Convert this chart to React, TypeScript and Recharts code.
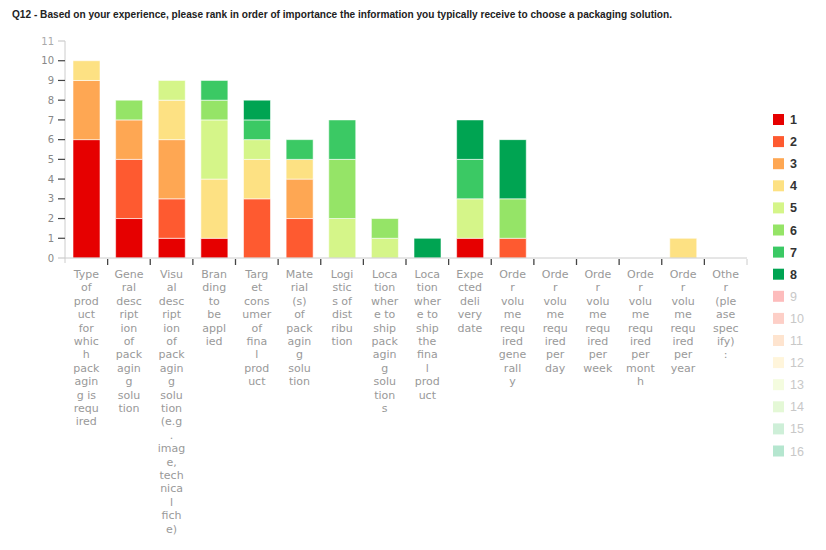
import { BarChart, Bar, XAxis, YAxis } from "recharts"

const title =
  "Q12 - Based on your experience, please rank in order of importance the information you typically receive to choose a packaging solution."

const categories = [
  "Type of product for which packaging is required",
  "General description of packaging solution",
  "Visual description of packaging solution (e.g. image, technical fiche)",
  "Branding to be applied",
  "Target consumer of final product",
  "Material(s) of packaging solution",
  "Logistics of distribution",
  "Location where to ship packaging solutions",
  "Location where to ship the final product",
  "Expected delivery date",
  "Order volume required generally",
  "Order volume required per day",
  "Order volume required per week",
  "Order volume required per month",
  "Order volume required per year",
  "Other (please specify):",
]

// number of respondents giving each rank, per category
const rank1 = [6, 2, 1, 1, 0, 0, 0, 0, 0, 1, 0, 0, 0, 0, 0, 0]
const rank2 = [0, 3, 2, 0, 3, 2, 0, 0, 0, 0, 1, 0, 0, 0, 0, 0]
const rank3 = [3, 2, 3, 0, 0, 2, 0, 0, 0, 0, 0, 0, 0, 0, 0, 0]
const rank4 = [1, 0, 2, 3, 2, 1, 0, 0, 0, 0, 0, 0, 0, 0, 1, 0]
const rank5 = [0, 0, 1, 3, 1, 0, 2, 1, 0, 2, 0, 0, 0, 0, 0, 0]
const rank6 = [0, 1, 0, 1, 0, 0, 3, 1, 0, 0, 2, 0, 0, 0, 0, 0]
const rank7 = [0, 0, 0, 1, 1, 1, 2, 0, 0, 2, 0, 0, 0, 0, 0, 0]
const rank8 = [0, 0, 0, 0, 1, 0, 0, 0, 1, 2, 3, 0, 0, 0, 0, 0]
const rank9 = [0, 0, 0, 0, 0, 0, 0, 0, 0, 0, 0, 0, 0, 0, 0, 0]
const rank10 = [0, 0, 0, 0, 0, 0, 0, 0, 0, 0, 0, 0, 0, 0, 0, 0]
const rank11 = [0, 0, 0, 0, 0, 0, 0, 0, 0, 0, 0, 0, 0, 0, 0, 0]
const rank12 = [0, 0, 0, 0, 0, 0, 0, 0, 0, 0, 0, 0, 0, 0, 0, 0]
const rank13 = [0, 0, 0, 0, 0, 0, 0, 0, 0, 0, 0, 0, 0, 0, 0, 0]
const rank14 = [0, 0, 0, 0, 0, 0, 0, 0, 0, 0, 0, 0, 0, 0, 0, 0]
const rank15 = [0, 0, 0, 0, 0, 0, 0, 0, 0, 0, 0, 0, 0, 0, 0, 0]
const rank16 = [0, 0, 0, 0, 0, 0, 0, 0, 0, 0, 0, 0, 0, 0, 0, 0]

const rankSeries = [
  rank1, rank2, rank3, rank4, rank5, rank6, rank7, rank8,
  rank9, rank10, rank11, rank12, rank13, rank14, rank15, rank16,
]
const rankLabels = ["1", "2", "3", "4", "5", "6", "7", "8", "9", "10", "11", "12", "13", "14", "15", "16"]
const rankColors = [
  "#e60000", "#fe5a30", "#fea753", "#fde183", "#d5f589", "#95e467", "#3bc964", "#00a452",
  "#fdbcbc", "#fdcfc7", "#fee4cf", "#fff5db", "#f4fcdf", "#e4f8d6", "#ceefd8", "#b5e6cf",
]
const yTicks = [0, 1, 2, 3, 4, 5, 6, 7, 8, 9, 10, 11]

const rows = categories.map((name, i) => {
  const row: Record<string, string | number> = { name }
  rankSeries.forEach((s, k) => {
    row[`r${k + 1}`] = s[i]
  })
  return row
})

const W = 826
const H = 550
const M = { top: 41, right: 79, bottom: 0, left: 0 }
const Y_AXIS_W = 65
const X_AXIS_H = 292
const BAND = (W - M.left - M.right - Y_AXIS_W) / categories.length

// break label into lines of at most 4 characters, like the original
function wrap(text: string, max = 4) {
  const lines: string[] = []
  let cur = ""
  for (const word of text.split(" ")) {
    if (cur && (cur + " " + word).length <= max) {
      cur += " " + word
      continue
    }
    if (cur) lines.push(cur)
    let w = word
    while (w.length > max) {
      lines.push(w.slice(0, max))
      w = w.slice(max)
    }
    cur = w
  }
  if (cur) lines.push(cur)
  return lines
}

function CategoryTick(props: any) {
  const { x, y, payload, index } = props
  const lines = wrap(String(payload.value))
  const last = index === categories.length - 1
  return (
    <g>
      {index === 0 && (
        <line x1={x - BAND / 2} x2={x - BAND / 2} y1={y} y2={y + 5} stroke="#ccc" />
      )}
      <line
        x1={x + BAND / 2}
        x2={x + BAND / 2}
        y1={y + 1}
        y2={y + 7}
        stroke={last ? "#ccc" : "#444"}
        strokeWidth={last ? 1 : 1.3}
      />
      <text x={x} y={y + 20} textAnchor="middle" fontFamily="DejaVu Sans" fontSize={11} fill="#999">
        {lines.map((l, i) => (
          <tspan key={i} x={x} dy={i === 0 ? 0 : 13.4}>
            {l}
          </tspan>
        ))}
      </text>
    </g>
  )
}

function RankTick(props: any) {
  const { x, y, payload } = props
  const faint = payload.value === 11 || payload.value === 0
  return (
    <g>
      <line x1={x - 7} x2={x} y1={y} y2={y} stroke={faint ? "#ccc" : "#444"} strokeWidth={1.2} />
      <text
        x={x - 11}
        y={y}
        dy={3.6}
        textAnchor="end"
        fontFamily="DejaVu Sans"
        fontSize={10}
        fill={payload.value === 11 ? "#aaa" : "#888"}
      >
        {payload.value}
      </text>
    </g>
  )
}

export default function App() {
  return (
    <div style={{ position: "absolute", left: 0, top: 0, width: W, height: H, background: "#fff" }}>
      <BarChart width={W} height={H} data={rows} margin={M} barSize={27}>
        <YAxis
          type="number"
          domain={[0, 11]}
          ticks={yTicks}
          interval={0}
          width={Y_AXIS_W}
          tickSize={0}
          tickMargin={0}
          tickLine={false}
          axisLine={{ stroke: "#ccc" }}
          tick={<RankTick />}
        />
        <XAxis
          dataKey="name"
          type="category"
          interval={0}
          height={X_AXIS_H}
          tickSize={0}
          tickMargin={0}
          tickLine={false}
          axisLine={{ stroke: "#ccc" }}
          tick={<CategoryTick />}
        />
        {rankLabels.map((label, k) => (
          <Bar
            key={label}
            dataKey={`r${k + 1}`}
            name={label}
            stackId="rank"
            fill={rankColors[k]}
            stroke="#ffffff"
            strokeOpacity={0.7}
            strokeWidth={0.8}
            isAnimationActive={false}
          />
        ))}
      </BarChart>
      <svg
        width={W}
        height={H}
        style={{ position: "absolute", left: 0, top: 0, pointerEvents: "none" }}
      >
        <text
          x={12}
          y={18}
          fontFamily="Liberation Sans"
          fontWeight="bold"
          fontSize={10}
          fill="#222"
          textLength={660}
          lengthAdjust="spacingAndGlyphs"
        >
          {title}
        </text>
        {rankLabels.map((label, k) => {
          const cy = 119.5 + k * 22.1
          const active = k < 8
          return (
            <g key={label}>
              <rect x={773} y={cy - 5.5} width={11} height={11} fill={rankColors[k]} />
              <text
                x={790}
                y={cy}
                dy={4.5}
                fontFamily="Liberation Sans"
                fontSize={12.5}
                fontWeight={active ? "bold" : "normal"}
                fill={active ? "#333" : "#c8c8c8"}
              >
                {label}
              </text>
            </g>
          )
        })}
      </svg>
    </div>
  )
}
